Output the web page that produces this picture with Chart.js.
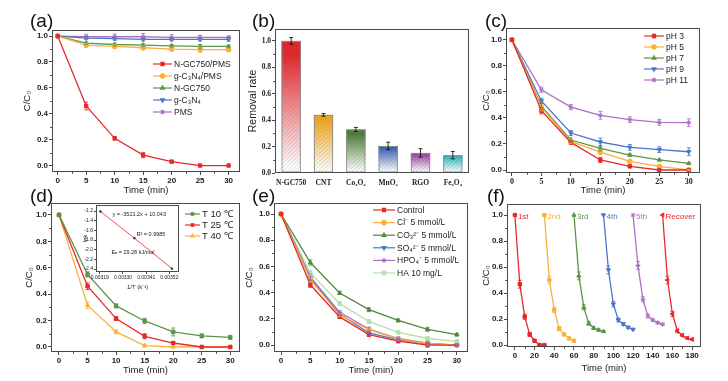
<!DOCTYPE html>
<html>
<head>
<meta charset="utf-8">
<script src="https://cdn.jsdelivr.net/npm/chart.js@4.4.0/dist/chart.umd.min.js"></script>
<style>
  body { margin: 0; background: #fff; width: 728px; height: 381px; overflow: hidden; position: relative; }
  canvas { position: absolute; }
  .lab { position: absolute; font: 19px 'Liberation Sans', Arial, sans-serif; line-height: 20px; color: #111; }
</style>
</head>
<body>
<canvas id="ca"></canvas>
<canvas id="cb"></canvas>
<canvas id="cc"></canvas>
<canvas id="cd"></canvas>
<canvas id="ce"></canvas>
<canvas id="cf"></canvas>
<canvas id="cin"></canvas>
<div class="lab" style="left:30px;top:11px">(a)</div>
<div class="lab" style="left:252px;top:11px">(b)</div>
<div class="lab" style="left:485px;top:11px">(c)</div>
<div class="lab" style="left:30px;top:186px">(d)</div>
<div class="lab" style="left:252px;top:186px">(e)</div>
<div class="lab" style="left:487px;top:186px">(f)</div>
<script>
// sampling times (min)
const times = [0, 5, 10, 15, 20, 25, 30]

// (a) control experiments
const aNames = ['N-GC750/PMS', 'g-C₃N₄/PMS', 'N-GC750', 'g-C₃N₄', 'PMS']
const aNgcPms = [1.0, 0.46, 0.21, 0.08, 0.03, 0.0, 0.0]
const aCnPms = [1.0, 0.93, 0.92, 0.91, 0.90, 0.895, 0.895]
const aNgc = [1.0, 0.945, 0.935, 0.93, 0.925, 0.92, 0.92]
const aCn = [1.0, 0.985, 0.98, 0.975, 0.975, 0.975, 0.975]
const aPms = [1.0, 0.995, 0.995, 0.995, 0.99, 0.99, 0.99]
const aNgcPmsErr = [0, 0.03, 0.012, 0.02, 0.01, 0, 0]
const aCnPmsErr = [0, 0.015, 0.015, 0.015, 0.015, 0.02, 0.015]
const aNgcErr = [0, 0.01, 0.01, 0.01, 0.01, 0.015, 0.01]
const aCnErr = [0, 0.012, 0.012, 0.012, 0.012, 0.012, 0.015]
const aPmsErr = [0, 0.02, 0.02, 0.025, 0.02, 0.015, 0.01]

// (b) catalysts
const bNames = ['N-GC750', 'CNT', 'Co₃O₄', 'MnO₂', 'RGO', 'Fe₃O₄']
const bRate = [1.0, 0.44, 0.33, 0.205, 0.152, 0.135]
const bErr = [0.025, 0.01, 0.015, 0.028, 0.032, 0.028]
const bColors = ['#e3262b', '#f6a91c', '#4b7f33', '#3f63b4', '#9a4aa5', '#35bcbf']

// (c) pH
const cNames = ['pH 3', 'pH 5', 'pH 7', 'pH 9', 'pH 11']
const cPh3 = [1.0, 0.455, 0.212, 0.077, 0.028, 0.0, 0.0]
const cPh5 = [1.0, 0.48, 0.22, 0.138, 0.066, 0.028, 0.0]
const cPh7 = [1.0, 0.49, 0.23, 0.166, 0.115, 0.077, 0.051]
const cPh9 = [1.0, 0.53, 0.284, 0.215, 0.174, 0.156, 0.14]
const cPh11 = [1.0, 0.616, 0.483, 0.42, 0.386, 0.366, 0.363]
const cErrLow = [0, 0.025, 0.015, 0.02, 0.01, 0.005, 0.005]
const cErrHigh = [0, 0.02, 0.02, 0.03, 0.022, 0.022, 0.03]

// (d) temperature + Arrhenius inset
const dNames = ['T 10 ℃', 'T 25 ℃', 'T 40 ℃']
const dT10 = [1.0, 0.549, 0.311, 0.197, 0.114, 0.084, 0.073]
const dT25 = [1.0, 0.46, 0.215, 0.081, 0.03, 0.0, 0.0]
const dT40 = [1.0, 0.316, 0.114, 0.01, 0.0, 0.0, 0.0]
const dT10Err = [0, 0.02, 0.015, 0.02, 0.03, 0.015, 0.015]
const dT25Err = [0, 0.025, 0.015, 0.02, 0.01, 0, 0]
const dT40Err = [0, 0.025, 0.015, 0.01, 0, 0, 0]
const invT = [0.003193, 0.003354, 0.003532]
const lnk = [-1.21, -1.76, -2.39]
const insetNotes = ['y = -3521.2x + 10.043', 'R² = 0.9985', 'Eₐ = 29.28 kJ/mol']
const insetNoteX = [0.00325, 0.003364, 0.003245]
const insetNoteY = [-1.262, -1.675, -2.047]

// (e) coexisting anions
const eNames = ['Control', 'Cl⁻ 5 mmol/L', 'CO₃²⁻ 5 mmol/L', 'SO₄²⁻ 5 mmol/L', 'HPO₄⁻ 5 mmol/L', 'HA 10 mg/L']
const eControl = [1.0, 0.46, 0.215, 0.08, 0.03, 0.0, 0.0]
const eCl = [1.0, 0.5, 0.229, 0.117, 0.045, 0.012, 0.0]
const eCO3 = [1.0, 0.63, 0.397, 0.27, 0.188, 0.12, 0.079]
const eSO4 = [1.0, 0.51, 0.237, 0.092, 0.04, 0.008, 0.0]
const eHPO4 = [1.0, 0.52, 0.25, 0.122, 0.05, 0.015, 0.0]
const eHA = [1.0, 0.55, 0.316, 0.18, 0.097, 0.05, 0.028]
const eErr = [0, 0.02, 0.012, 0.015, 0.012, 0.015, 0.01]

// (f) reuse cycles
const fNames = ['1st', '2nd', '3rd', '4th', '5th', 'Recover']
const fStart = [0, 30, 60, 90, 120, 150]
const f1 = [1.0, 0.468, 0.218, 0.082, 0.033, 0.0, 0.0]
const f2 = [1.0, 0.50, 0.27, 0.126, 0.082, 0.051, 0.033]
const f3 = [1.0, 0.532, 0.29, 0.167, 0.131, 0.116, 0.105]
const f4 = [1.0, 0.578, 0.314, 0.193, 0.162, 0.136, 0.121]
const f5 = [1.0, 0.612, 0.352, 0.224, 0.193, 0.172, 0.159]
const fRec = [1.0, 0.50, 0.239, 0.108, 0.075, 0.054, 0.044]
const fErr = [0, 0.03, 0.02, 0.015, 0.01, 0.008, 0.006]

const SANS = "'Liberation Sans', Arial, sans-serif"
const SERIF = "'Liberation Serif', 'Times New Roman', serif"
const INK = '#222'
const AX = '#4a4a4a'
const RED = '#e8282b', ORANGE = '#f8b23c', GREEN = '#5c9548', BLUE = '#4d76c6', PURPLE = '#ad70c2'

Chart.defaults.font.family = SANS
Chart.defaults.color = INK

// ---------- plugins ----------
function marker(ctx, style, rot, x, y, r) {
  Chart.helpers.drawPoint(ctx, { pointStyle: style, rotation: rot || 0, radius: r, borderWidth: 1 }, x, y)
}

function isMajor(v, major) {
  return Math.abs(v / major - Math.round(v / major)) < 1e-6
}

const errPlugin = {
  id: 'errBars',
  afterDatasetsDraw(chart) {
    const ctx = chart.ctx, ys = chart.scales.y
    chart.data.datasets.forEach((ds, i) => {
      if (!ds.err) return
      const meta = chart.getDatasetMeta(i)
      ctx.save()
      ctx.strokeStyle = ds.errColor || ds.borderColor
      ctx.globalAlpha = 0.85
      ctx.lineWidth = 1
      meta.data.forEach((pt, j) => {
        const e = ds.err[j]
        if (!e) return
        const v = typeof ds.data[j] === 'object' ? ds.data[j].y : ds.data[j]
        const y1 = ys.getPixelForValue(v - e), y2 = ys.getPixelForValue(v + e)
        ctx.beginPath()
        ctx.moveTo(pt.x, y1); ctx.lineTo(pt.x, y2)
        ctx.moveTo(pt.x - 2, y1); ctx.lineTo(pt.x + 2, y1)
        ctx.moveTo(pt.x - 2, y2); ctx.lineTo(pt.x + 2, y2)
        ctx.stroke()
      })
      ctx.restore()
    })
  }
}

const barPaint = {
  id: 'barPaint',
  beforeDatasetsDraw(chart, args, o) {
    if (!o.colors) return
    const ctx = chart.ctx
    chart.getDatasetMeta(0).data.forEach((el, i) => {
      const x = el.x - el.width / 2, w = el.width, top = el.y, h = el.base - el.y
      const g = ctx.createLinearGradient(0, top, 0, el.base)
      g.addColorStop(0, o.colors[i])
      g.addColorStop(0.1, o.colors[i])
      g.addColorStop(0.95, '#ffffff')
      ctx.save()
      ctx.fillStyle = g
      ctx.fillRect(x, top, w, h)
      ctx.beginPath(); ctx.rect(x, top, w, h); ctx.clip()
      ctx.strokeStyle = 'rgba(90,90,90,0.45)'
      ctx.lineWidth = 0.6
      ctx.beginPath()
      for (let k = -h; k < w + h; k += 4) { ctx.moveTo(x + k, el.base); ctx.lineTo(x + k + h, top) }
      ctx.stroke()
      ctx.restore()
    })
  }
}

const legendBox = {
  id: 'legendBox',
  afterDatasetsDraw(chart, args, o) {
    if (o.x === undefined) return
    const ctx = chart.ctx
    ctx.save()
    ctx.font = o.font
    ctx.textBaseline = 'middle'
    chart.data.datasets.forEach((ds, i) => {
      const y = o.y + i * o.dy
      ctx.strokeStyle = ds.borderColor
      ctx.lineWidth = 1.2
      ctx.beginPath(); ctx.moveTo(o.x, y); ctx.lineTo(o.x + o.len, y); ctx.stroke()
      ctx.fillStyle = ds.borderColor
      marker(ctx, ds.pointStyle, ds.pointRotation, o.x + o.len / 2, y, o.r || 2.2)
      ctx.fillStyle = INK
      ctx.fillText(ds.label, o.x + o.len + 2, y + 0.5)
    })
    ctx.restore()
  }
}

const notes = {
  id: 'notes',
  afterDatasetsDraw(chart, args, o) {
    if (!o.items) return
    const ctx = chart.ctx, xs = chart.scales.x, ys = chart.scales.y
    ctx.save()
    ctx.textBaseline = 'middle'
    ctx.font = o.font
    o.items.forEach(n => {
      ctx.fillStyle = n.color || INK
      ctx.fillText(n.text, xs.getPixelForValue(n.x) + (o.dx || 0), ys.getPixelForValue(n.y))
    })
    ctx.restore()
  }
}

// short minor ticks (Chart.js draws only the major ones, minor ones get a transparent tick colour)
const minorTicks = {
  id: 'minorTicks',
  afterDraw(chart) {
    const ctx = chart.ctx
    Object.values(chart.scales).forEach(s => {
      if (!s.$major) return
      ctx.save()
      ctx.strokeStyle = AX
      ctx.lineWidth = 1
      ctx.beginPath()
      s.ticks.forEach(t => {
        if (isMajor(t.value, s.$major)) return
        const p = Math.round(s.getPixelForValue(t.value)) + 0.5
        if (s.isHorizontal()) { ctx.moveTo(p, s.top); ctx.lineTo(p, s.top + 1.8) }
        else { ctx.moveTo(s.right, p); ctx.lineTo(s.right - 1.8, p) }
      })
      ctx.stroke()
      ctx.restore()
    })
  }
}

const frame = {
  id: 'frame',
  beforeDraw(chart, args, o) {
    if (!o.fill) return
    const a = chart.chartArea
    chart.ctx.save()
    chart.ctx.fillStyle = o.fill
    chart.ctx.fillRect(a.left, a.top, a.right - a.left, a.bottom - a.top)
    chart.ctx.restore()
  },
  afterDatasetsDraw(chart) {
    const a = chart.chartArea, ctx = chart.ctx
    ctx.save()
    ctx.strokeStyle = AX
    ctx.lineWidth = 1
    ctx.strokeRect(Math.round(a.left) + 0.5, Math.round(a.top) + 0.5,
      Math.round(a.right - a.left) - 1, Math.round(a.bottom - a.top) - 1)
    ctx.restore()
  }
}

Chart.register(errPlugin, barPaint, legendBox, notes, minorTicks, frame)

// ---------- helpers ----------
function place(id, cell) {
  const cv = document.getElementById(id)
  cv.width = cell.w
  cv.height = cell.h
  cv.style.left = cell.x + 'px'
  cv.style.top = cell.y + 'px'
  return cv
}

function stepTicks(min, max, step, major) {
  return s => {
    const out = []
    const start = Math.ceil(min / step - 1e-9) * step
    for (let v = start; v <= max + 1e-9; v += step) out.push({ value: Math.round(v * 1e7) / 1e7 })
    s.ticks = out
    s.$major = major
  }
}

function linAxis(r, tickFont, fit, title, titleFont, tpad, horizontal) {
  return {
    type: 'linear', min: r.min, max: r.max,
    afterFit: fit,
    afterBuildTicks: stepTicks(r.min, r.max, r.step, r.major),
    ticks: {
      autoSkip: false, maxRotation: 0, padding: 1, font: tickFont, color: INK,
      callback: v => isMajor(v, r.major) ? v.toFixed(r.dec) : ''
    },
    grid: {
      drawOnChartArea: false, tickLength: r.tl || 3,
      tickColor: c => isMajor(c.tick.value, r.major) ? AX : 'rgba(0,0,0,0)'
    },
    border: { display: false },
    title: title ? {
      display: true, text: title, color: INK, font: titleFont,
      padding: horizontal ? { top: 0, bottom: tpad } : { top: tpad, bottom: 0 }
    } : { display: false }
  }
}

function ser(label, color, style, xs, vals, err, extra) {
  return Object.assign({
    label, err,
    data: xs.map((t, k) => ({ x: t, y: vals[k] })),
    borderColor: color, backgroundColor: color,
    pointBackgroundColor: color, pointBorderColor: color,
    pointStyle: style, pointRadius: 2.4, pointBorderWidth: 1, borderWidth: 1.3
  }, extra || {})
}

const tickFont = { size: 8, weight: 'bold', family: SANS }
const titleFont = { size: 9.5, family: SANS }

function linePanel(id, cell, fr, p) {
  new Chart(place(id, cell), {
    type: 'line',
    data: { datasets: p.datasets },
    options: {
      responsive: false, animation: false, devicePixelRatio: 1,
      layout: { padding: { left: 0, bottom: 0, top: fr.t - cell.y, right: cell.x + cell.w - fr.r } },
      plugins: {
        legend: { display: false }, tooltip: { enabled: false },
        legendBox: p.legend || {}, notes: p.notes || {}
      },
      scales: {
        x: linAxis(p.xr, p.xFont || tickFont, s => { s.height = cell.y + cell.h - fr.b },
          'Time (min)', titleFont, p.xpad, true),
        y: linAxis(p.yr, tickFont, s => { s.width = fr.l - cell.x },
          'C/C₀', titleFont, p.ypad, false)
      }
    }
  })
}

const lg = (cell, x, y, dy, len, size, r) => ({ x: x - cell.x, y: y - cell.y, dy, len, r, font: size + 'px ' + SANS })
const DOWN = { pointRotation: 180 }

// ---------- (a) ----------
const cellA = { x: 0, y: 0, w: 245, h: 200 }
linePanel('ca', cellA, { l: 52, t: 30, r: 243, b: 172 }, {
  xr: { min: -1, max: 32, step: 2.5, major: 5, dec: 0 },
  yr: { min: -0.05, max: 1.047, step: 0.1, major: 0.2, dec: 1 },
  xpad: 4, ypad: 22,
  legend: lg(cellA, 153, 64, 12, 19, 8.5),
  datasets: [
    ser(aNames[0], RED, 'rect', times, aNgcPms, aNgcPmsErr),
    ser(aNames[1], ORANGE, 'circle', times, aCnPms, aCnPmsErr),
    ser(aNames[2], GREEN, 'triangle', times, aNgc, aNgcErr),
    ser(aNames[3], BLUE, 'triangle', times, aCn, aCnErr, DOWN),
    ser(aNames[4], PURPLE, 'star', times, aPms, aPmsErr)
  ]
})

// ---------- (b) ----------
const cellB = { x: 240, y: 0, w: 245, h: 200 }
const frB = { l: 275, t: 29, r: 469, b: 173 }
new Chart(place('cb', cellB), {
  type: 'bar',
  data: {
    labels: bNames,
    datasets: [{ data: bRate, err: bErr, errColor: '#111', backgroundColor: 'rgba(0,0,0,0)',
      borderColor: '#8a8a8a', borderWidth: 1, borderSkipped: false,
      categoryPercentage: 1, barPercentage: 0.6 }]
  },
  options: {
    responsive: false, animation: false, devicePixelRatio: 1,
    layout: { padding: { left: 0, bottom: 0, top: frB.t - cellB.y, right: cellB.x + cellB.w - frB.r } },
    plugins: { legend: { display: false }, tooltip: { enabled: false }, barPaint: { colors: bColors } },
    scales: {
      x: {
        afterFit: s => { s.height = cellB.y + cellB.h - frB.b },
        ticks: { font: { size: 7.5, weight: 'bold', family: SERIF }, color: INK, padding: 6,
          maxRotation: 0, autoSkip: false },
        grid: { display: false, drawTicks: false }, border: { display: false }
      },
      y: linAxis({ min: 0, max: 1.09, step: 0.1, major: 0.2, dec: 1 },
        { size: 7.5, weight: 'bold', family: SERIF }, s => { s.width = frB.l - cellB.x },
        'Removal rate', { size: 10.5, family: SANS }, 6.5, false)
    }
  }
})

// ---------- (c) ----------
const cellC = { x: 472, y: 0, w: 256, h: 200 }
linePanel('cc', cellC, { l: 506, t: 28, r: 700, b: 173 }, {
  xr: { min: -1, max: 31.9, step: 2.5, major: 5, dec: 0 },
  yr: { min: -0.023, max: 1.09, step: 0.1, major: 0.2, dec: 1 },
  xFont: { size: 8, weight: 'bold', family: SERIF },
  xpad: 4, ypad: 9,
  legend: lg(cellC, 644, 36, 11, 20, 8.5),
  datasets: [
    ser(cNames[0], RED, 'rect', times, cPh3, cErrLow),
    ser(cNames[1], ORANGE, 'circle', times, cPh5, cErrLow),
    ser(cNames[2], GREEN, 'triangle', times, cPh7, cErrLow),
    ser(cNames[3], BLUE, 'triangle', times, cPh9, cErrHigh, DOWN),
    ser(cNames[4], PURPLE, 'star', times, cPh11, cErrHigh)
  ]
})

// ---------- (d) ----------
const cellD = { x: 0, y: 188, w: 245, h: 193 }
linePanel('cd', cellD, { l: 51, t: 203, r: 241, b: 352 }, {
  xr: { min: -1.4, max: 31.7, step: 2.5, major: 5, dec: 0 },
  yr: { min: -0.038, max: 1.09, step: 0.1, major: 0.2, dec: 1 },
  xpad: 5, ypad: 24,
  legend: lg(cellD, 185, 214, 11, 15, 9.5, 1.8),
  datasets: [
    ser(dNames[0], GREEN, 'rect', times, dT10, dT10Err),
    ser(dNames[1], RED, 'rect', times, dT25, dT25Err),
    ser(dNames[2], ORANGE, 'triangle', times, dT40, dT40Err)
  ]
})

// inset: Arrhenius plot
const cellIn = { x: 80, y: 200, w: 104, h: 92 }
const frIn = { l: 96, t: 205, r: 182, b: 272 }
const tiny = { size: 5, family: SANS }
new Chart(place('cin', cellIn), {
  type: 'line',
  data: {
    datasets: [{
      data: invT.map((t, k) => ({ x: t, y: lnk[k] })),
      borderColor: '#f03a33', borderWidth: 0.9,
      pointBackgroundColor: '#333', pointBorderColor: '#333', pointStyle: 'rect', pointRadius: 1
    }]
  },
  options: {
    responsive: false, animation: false, devicePixelRatio: 1,
    layout: { padding: { left: 0, bottom: 0, top: frIn.t - cellIn.y, right: cellIn.x + cellIn.w - frIn.r } },
    plugins: {
      legend: { display: false }, tooltip: { enabled: false }, frame: { fill: '#fff' },
      notes: {
        font: '5.5px ' + SANS,
        items: insetNotes.map((t, k) => ({ text: t, x: insetNoteX[k], y: insetNoteY[k] }))
      }
    },
    scales: {
      x: linAxis({ min: 0.003172, max: 0.003566, step: 0.00011, major: 0.00011, dec: 5, tl: 2 },
        tiny, s => { s.height = cellIn.y + cellIn.h - frIn.b }, '1/T (k⁻¹)', { size: 6, family: SANS }, 1.5, true),
      y: linAxis({ min: -2.46, max: -1.076, step: 0.2, major: 0.2, dec: 1, tl: 2 },
        tiny, s => { s.width = frIn.l - cellIn.x }, 'lnk', { size: 6, family: SANS }, 1.5, false)
    }
  }
})

// ---------- (e) ----------
const cellE = { x: 240, y: 188, w: 245, h: 193 }
linePanel('ce', cellE, { l: 274, t: 203, r: 468, b: 352 }, {
  xr: { min: -1.2, max: 31.9, step: 2.5, major: 5, dec: 0 },
  yr: { min: -0.053, max: 1.084, step: 0.1, major: 0.2, dec: 1 },
  xpad: 5, ypad: 3.5,
  legend: lg(cellE, 373, 210, 12.6, 22, 8.5),
  datasets: [
    ser(eNames[0], RED, 'rect', times, eControl, eErr),
    ser(eNames[1], ORANGE, 'circle', times, eCl, eErr),
    ser(eNames[2], '#4f8a3c', 'triangle', times, eCO3, eErr),
    ser(eNames[3], BLUE, 'triangle', times, eSO4, eErr, DOWN),
    ser(eNames[4], PURPLE, 'star', times, eHPO4, eErr),
    ser(eNames[5], '#b3e0ad', 'rect', times, eHA, eErr)
  ]
})

// ---------- (f) ----------
const cellF = { x: 472, y: 188, w: 256, h: 193 }
const fColors = [RED, ORANGE, GREEN, BLUE, PURPLE, RED]
const fStyles = ['rect', 'rect', 'triangle', 'triangle', 'star', 'triangle']
const fRot = [0, 0, 0, 180, 0, -90]
const fVals = [f1, f2, f3, f4, f5, fRec]
linePanel('cf', cellF, { l: 507, t: 204, r: 701, b: 347 }, {
  xr: { min: -8, max: 189, step: 10, major: 20, dec: 0 },
  yr: { min: -0.015, max: 1.085, step: 0.1, major: 0.2, dec: 1 },
  xpad: 7, ypad: 9,
  notes: {
    font: '8px ' + SANS, dx: 3,
    items: fNames.map((n, k) => ({ text: n, x: fStart[k], y: 0.985, color: fColors[k] }))
  },
  datasets: fVals.map((v, k) => ser(fNames[k], fColors[k], fStyles[k],
    times.map(t => t + fStart[k]), v, fErr, { pointRotation: fRot[k] }))
})
</script>
</body>
</html>
